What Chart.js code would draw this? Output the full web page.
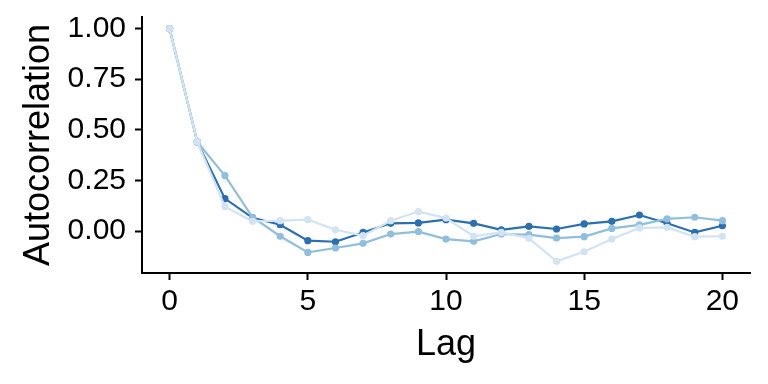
<!DOCTYPE html>
<html>
<head>
<meta charset="utf-8">
<script src="https://cdn.jsdelivr.net/npm/chart.js@4/dist/chart.umd.min.js"></script>
<style>
  html, body { margin: 0; padding: 0; background: #ffffff; }
  #wrap { width: 768px; height: 384px; position: relative; }
</style>
</head>
<body>
<div id="wrap"><canvas id="acf"></canvas></div>
<script>
// lags 0..20
var lags = [0, 1, 2, 3, 4, 5, 6, 7, 8, 9, 10, 11, 12, 13, 14, 15, 16, 17, 18, 19, 20];

// three autocorrelation series
var acfDark = [1.00, 0.44, 0.16, 0.065, 0.031, -0.048, -0.053, -0.007, 0.038, 0.040, 0.056,
  0.038, 0.006, 0.023, 0.010, 0.035, 0.048, 0.079, 0.038, -0.007, 0.026];
var acfMid = [1.00, 0.44, 0.274, 0.068, -0.026, -0.106, -0.084, -0.061, -0.015, -0.003, -0.040,
  -0.051, -0.015, -0.018, -0.035, -0.028, 0.013, 0.030, 0.060, 0.068, 0.051];
var acfLight = [1.00, 0.44, 0.12, 0.048, 0.051, 0.056, 0.006, -0.023, 0.051, 0.096, 0.064,
  -0.026, -0.007, -0.036, -0.150, -0.103, -0.040, 0.015, 0.018, -0.028, -0.026];

var xTicks = [0, 5, 10, 15, 20];
var yTicks = [0, 0.25, 0.5, 0.75, 1.0];

var FONT = "'Liberation Sans', Arial, Helvetica, sans-serif";

function toPoints(vals) {
  var out = [];
  for (var i = 0; i < lags.length; i++) out.push({ x: lags[i], y: vals[i] });
  return out;
}

function series(vals, color) {
  return {
    data: toPoints(vals),
    borderColor: color,
    backgroundColor: color,
    borderWidth: 2.2,
    pointRadius: 3.6,
    pointBorderWidth: 0,
    pointHoverRadius: 3.6,
    tension: 0
  };
}

// drop the extra room Chart.js keeps for edge tick labels
function fixPadding(scale) {
  scale.paddingTop = 0;
  scale.paddingBottom = 0;
  scale.paddingLeft = 0;
  scale.paddingRight = 0;
}

var ctx = document.getElementById('acf').getContext('2d');
new Chart(ctx, {
  type: 'line',
  data: {
    // first dataset is painted on top
    datasets: [
      series(acfLight, '#d2e3f3'),
      series(acfMid, '#8fbfdd'),
      series(acfDark, '#2b6fb3')
    ]
  },
  options: {
    responsive: true,
    maintainAspectRatio: false,
    animation: false,
    layout: { padding: { top: 17, right: 18, left: 0, bottom: 0 } },
    plugins: { legend: { display: false }, tooltip: { enabled: false } },
    scales: {
      x: {
        type: 'linear',
        min: -1,
        max: 21,
        afterBuildTicks: function (scale) {
          scale.ticks = xTicks.map(function (v) { return { value: v }; });
        },
        afterFit: function (scale) { scale.height = 111; fixPadding(scale); },
        grid: { display: true, drawOnChartArea: false, drawTicks: true, tickLength: 7, tickWidth: 2, tickColor: '#000' },
        border: { display: true, color: '#000', width: 2 },
        ticks: { color: '#000', font: { family: FONT, size: 30 }, padding: 4, maxRotation: 0 },
        title: { display: true, text: 'Lag', color: '#000', font: { family: FONT, size: 36 }, padding: { top: 0, bottom: 17 } }
      },
      y: {
        type: 'linear',
        min: -0.2075,
        max: 1.0575,
        afterBuildTicks: function (scale) {
          scale.ticks = yTicks.map(function (v) { return { value: v }; });
        },
        afterFit: function (scale) { scale.width = 142; fixPadding(scale); },
        grid: { display: true, drawOnChartArea: false, drawTicks: true, tickLength: 7, tickWidth: 2, tickColor: '#000' },
        border: { display: true, color: '#000', width: 2 },
        ticks: {
          color: '#000', font: { family: FONT, size: 30 }, padding: 9,
          callback: function (v) { return Number(v).toFixed(2); }
        },
        title: { display: true, text: 'Autocorrelation', color: '#000', font: { family: FONT, size: 36 }, padding: { top: 17, bottom: 0 } }
      }
    }
  }
});
</script>
</body>
</html>
